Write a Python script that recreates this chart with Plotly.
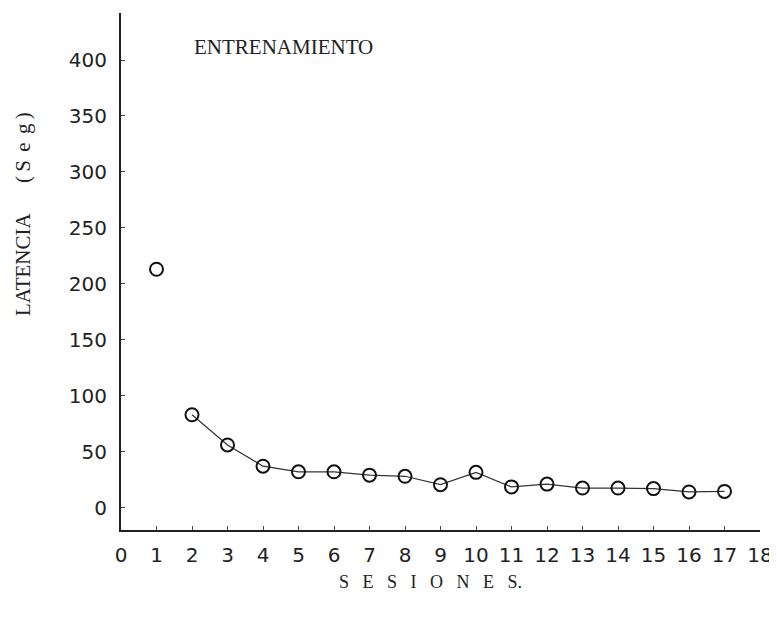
import plotly.graph_objects as go

sessions = [1, 2, 3, 4, 5, 6, 7, 8, 9, 10, 11, 12, 13, 14, 15, 16, 17]
latency = [213, 83, 56, 37, 32, 32, 29, 28, 20.5, 31.5, 18.5, 21, 17.5, 17.5, 17, 14, 14.5]
x_ticks = list(range(0, 19))
y_ticks = list(range(0, 401, 50))

# The page body has an 8px margin, so the figure is drawn 8px in from the corner.
OFF = 8
W, H = 777 - OFF, 625 - OFF
L, R, T, B = 121 - OFF, 777 - 760, 13 - OFF, 625 - 530

fig = go.Figure()
marker = dict(symbol="circle-open", size=13, color="#111", line=dict(width=2, color="#111"))
# Session 1 stands alone (not joined to the rest)
fig.add_trace(go.Scatter(x=sessions[:1], y=latency[:1], mode="markers", marker=marker,
                         showlegend=False, cliponaxis=False))
fig.add_trace(go.Scatter(x=sessions[1:], y=latency[1:], mode="lines+markers", marker=marker,
                         line=dict(color="#333", width=1.2), showlegend=False, cliponaxis=False))

axis_common = dict(showgrid=False, zeroline=False, showline=True, linecolor="#222",
                   linewidth=2, ticks="inside", ticklen=4, tickcolor="#444", tickwidth=1,
                   automargin=False, ticklabeloverflow="allow",
                   tickfont=dict(family="DejaVu Sans, Arial, sans-serif", size=20, color="#222"))

fig.update_xaxes(range=[0, 18], tickvals=x_ticks, ticktext=[str(v) for v in x_ticks],
                 ticklabelstandoff=6, **axis_common)
fig.update_yaxes(range=[-20, 442], tickvals=y_ticks, ticktext=[str(v) for v in y_ticks],
                 ticklabelstandoff=8, **axis_common)

serif = "Liberation Serif, Times New Roman, serif"
pw, ph = W - L - R, H - T - B

def px(xp):  # page pixel -> paper x
    return (xp - OFF - L) / pw

def py(yp):  # page pixel -> paper y
    return (H - B - (yp - OFF)) / ph

ann = dict(xref="paper", yref="paper", showarrow=False, xanchor="center", yanchor="middle")
fig.add_annotation(text="ENTRENAMIENTO", x=px(283), y=py(47),
                   font=dict(family=serif, size=21, color="#222"), **ann)
fig.add_annotation(text="LATENCIA", x=px(23), y=py(265), textangle=-90,
                   font=dict(family=serif, size=21, color="#222"), **ann)
fig.add_annotation(text="(\u2009S\u2009\u2009e\u2009\u2009g\u2009)", x=px(23), y=py(148), textangle=-90,
                   font=dict(family=serif, size=21, color="#222"), **ann)
nb = "\u00a0\u00a0\u00a0"
fig.add_annotation(text=nb.join(list("SESIONES")) + ".", x=px(430), y=py(582),
                   font=dict(family=serif, size=18, color="#222"), **ann)

fig.update_layout(width=W, height=H, margin=dict(l=L, r=R, t=T, b=B),
                  paper_bgcolor="white", plot_bgcolor="white")

fig.write_html("out.html")
